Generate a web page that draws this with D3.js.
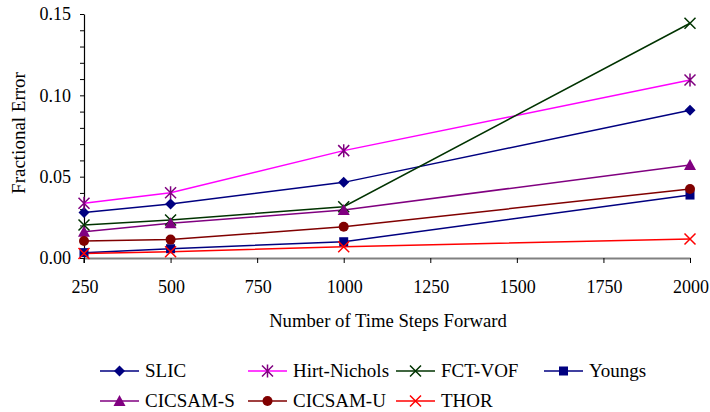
<!DOCTYPE html>
<html><head><meta charset="utf-8">
<script src="https://cdn.jsdelivr.net/npm/d3@7"></script>
<style>body{margin:0;background:#fff}svg{display:block}</style>
</head><body><svg id="c" width="710" height="412"></svg>
<script>
const steps = [250, 500, 1000, 2000];
const seriesNames = ["SLIC","Hirt-Nichols","FCT-VOF","Youngs","CICSAM-S","CICSAM-U","THOR"];
const slic = [0.0279, 0.0332, 0.0465, 0.0908];
const hirtNichols = [0.0336, 0.0401, 0.0660, 0.1094];
const fctVof = [0.0203, 0.0234, 0.0315, 0.1443];
const youngs = [0.0033, 0.0057, 0.0100, 0.0387];
const cicsamS = [0.0162, 0.0213, 0.0295, 0.0572];
const cicsamU = [0.0104, 0.0113, 0.0192, 0.0424];
const thor = [0.0028, 0.0039, 0.0069, 0.0117];
const xTicks = [250,500,750,1000,1250,1500,1750,2000];
const yTicks = [0, 0.05, 0.10, 0.15];

const FONT = "'Liberation Serif', 'Times New Roman', serif";
const styles = [
  {line:"#000080", mark:"#000080", shape:"diamond"},
  {line:"#ff00ff", mark:"#800080", shape:"star"},
  {line:"#003300", mark:"#003300", shape:"x"},
  {line:"#000080", mark:"#000080", shape:"square"},
  {line:"#800080", mark:"#800080", shape:"triangle"},
  {line:"#800000", mark:"#800000", shape:"circle"},
  {line:"#ff0000", mark:"#ff0000", shape:"x"}
];
const values = [slic, hirtNichols, fctVof, youngs, cicsamS, cicsamU, thor];

const svg = d3.select("#c");
const x = d3.scaleLinear().domain([250,2000]).range([84,690]);
const y = d3.scaleLinear().domain([0,0.15]).range([258,14]);

// y axis
const ya = svg.append("g").attr("transform","translate(84,0)")
  .call(d3.axisLeft(y).tickValues(d3.range(0,0.1501,0.01)).tickSize(4).tickSizeOuter(0).tickFormat(""));
ya.select(".domain").attr("stroke","#000").attr("stroke-width",1.2);
ya.selectAll(".tick line").attr("stroke","#000");
svg.append("line").attr("x1",84).attr("x2",84).attr("y1",258).attr("y2",263).attr("stroke","#000").attr("stroke-width",1.2);
svg.append("g").selectAll("text").data(yTicks).join("text")
  .attr("x",71).attr("y",d=>y(d)+6.3).attr("text-anchor","end")
  .style("font-family",FONT).style("font-size","18px").text(d=>d3.format(".2f")(d));

// x axis
const xa = svg.append("g").attr("transform","translate(0,258)")
  .call(d3.axisBottom(x).tickValues(xTicks).tickSize(5).tickSizeOuter(0).tickFormat(""));
xa.select(".domain").attr("stroke","#808080").attr("stroke-width",2);
xa.selectAll(".tick line").attr("stroke","#000");
svg.append("g").selectAll("text").data(xTicks).join("text")
  .attr("x",d=>x(d)+1).attr("y",293).attr("text-anchor","middle")
  .style("font-family",FONT).style("font-size","18px").text(d=>d);

svg.append("text").attr("x",388).attr("y",327).attr("text-anchor","middle")
  .style("font-family",FONT).style("font-size","18.7px").text("Number of Time Steps Forward");
svg.append("text").attr("transform","translate(25,133) rotate(-90)").attr("text-anchor","middle")
  .style("font-family",FONT).style("font-size","19px").text("Fractional Error");

function marker(g, shape, color, cx, cy){
  const s = 5.5;
  if(shape==="diamond") g.append("path").attr("d",`M${cx},${cy-s}L${cx+s},${cy}L${cx},${cy+s}L${cx-s},${cy}Z`).attr("fill",color);
  else if(shape==="square") g.append("rect").attr("x",cx-4.5).attr("y",cy-4.5).attr("width",9).attr("height",9).attr("fill",color);
  else if(shape==="triangle") g.append("path").attr("d",`M${cx},${cy-6}L${cx+6},${cy+5}L${cx-6},${cy+5}Z`).attr("fill",color);
  else if(shape==="circle") g.append("circle").attr("cx",cx).attr("cy",cy).attr("r",5).attr("fill",color);
  else if(shape==="x") g.append("path").attr("d",`M${cx-5.5},${cy-5.5}L${cx+5.5},${cy+5.5}M${cx-5.5},${cy+5.5}L${cx+5.5},${cy-5.5}`).attr("stroke",color).attr("stroke-width",1.5).attr("fill","none");
  else if(shape==="star") g.append("path").attr("d",`M${cx-5.5},${cy-5.5}L${cx+5.5},${cy+5.5}M${cx-5.5},${cy+5.5}L${cx+5.5},${cy-5.5}M${cx},${cy-6.5}L${cx},${cy+6.5}`).attr("stroke",color).attr("stroke-width",1.5).attr("fill","none");
}

const line = d3.line().x((d,i)=>x(steps[i])).y(d=>y(d));
values.forEach((vals,k)=>{
  svg.append("path").attr("d",line(vals)).attr("fill","none").attr("stroke",styles[k].line).attr("stroke-width",1.5);
});
values.forEach((vals,k)=>{
  const g = svg.append("g");
  vals.forEach((v,i)=>marker(g, styles[k].shape, styles[k].mark, x(steps[i]), y(v)));
});

// legend
const legPos = [[100,371],[248,371],[396,371],[544,371],[100,401],[248,401],[396,401]];
seriesNames.forEach((n,k)=>{
  const [lx,ly] = legPos[k];
  const g = svg.append("g");
  g.append("line").attr("x1",lx).attr("x2",lx+39).attr("y1",ly).attr("y2",ly).attr("stroke",styles[k].line).attr("stroke-width",1.5);
  marker(g, styles[k].shape, styles[k].mark, lx+19.5, ly);
  g.append("text").attr("x",lx+45).attr("y",ly+6.3).style("font-family",FONT).style("font-size","19px").text(n);
});
</script></body></html>
